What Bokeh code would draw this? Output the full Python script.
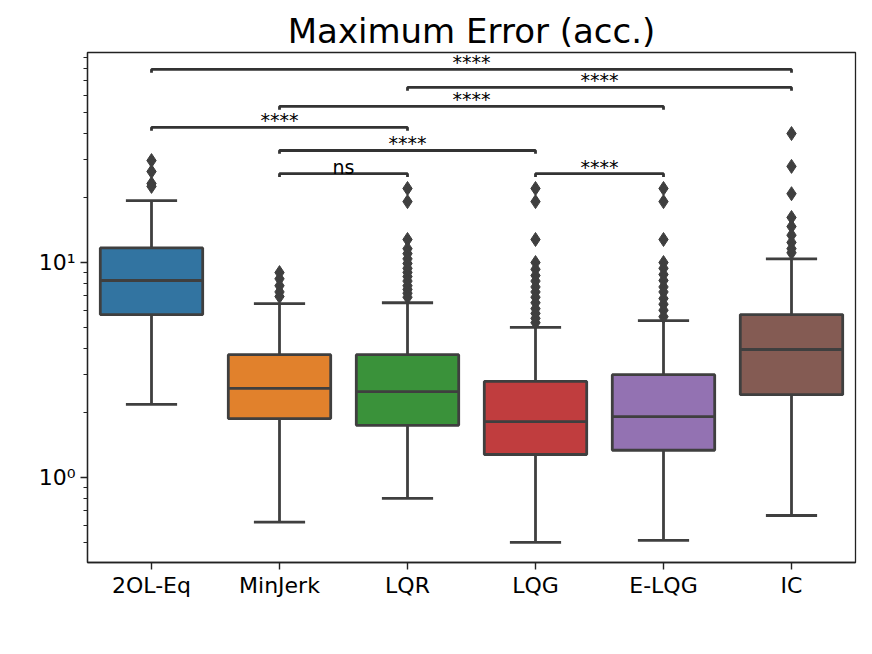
import numpy as np
from bokeh.plotting import figure
from bokeh.models import Range1d, FixedTicker, ColumnDataSource
from bokeh.embed import file_html
from bokeh.resources import INLINE

# ---- data ----
categories = ["2OL-Eq", "MinJerk", "LQR", "LQG", "E-LQG", "IC"]
colors = ["#3274a1", "#e1812c", "#3a923a", "#c03d3e", "#9372b2", "#845b53"]
whisker_low = [2.19, 0.62, 0.80, 0.50, 0.51, 0.666]
q1 = [5.73, 1.88, 1.75, 1.28, 1.34, 2.43]
median = [8.25, 2.60, 2.51, 1.82, 1.92, 3.94]
q3 = [11.7, 3.73, 3.73, 2.80, 3.01, 5.73]
whisker_high = [19.4, 6.44, 6.5, 4.99, 5.37, 10.4]
outliers = [
    [29.8, 26.5, 23.3, 22.6],
    [8.98, 8.4, 7.8, 7.3, 6.95],
    [22.1, 19.2, 12.8, 11.6, 11.0, 10.4, 9.9, 9.4, 9.0, 8.6, 8.2, 7.8, 7.5, 7.2, 6.9],
    [22.1, 19.2, 12.8, 10.0, 9.3, 8.7, 8.2, 7.7, 7.3, 6.9, 6.5, 6.1, 5.8, 5.5, 5.25],
    [22.1, 19.2, 12.8, 10.0, 9.4, 8.8, 8.25, 7.7, 7.3, 6.8, 6.4, 6.0, 5.6],
    [39.8, 28.0, 20.9, 16.2, 14.7, 13.4, 12.4, 11.6, 11.1],
]
# significance brackets: (left category, right category, level, label)
bracket_left = ["MinJerk", "LQG", "MinJerk", "2OL-Eq", "MinJerk", "LQR", "2OL-Eq"]
bracket_right = ["LQR", "E-LQG", "LQG", "LQR", "E-LQG", "IC", "IC"]
bracket_level = [25.9, 25.9, 33.2, 42.5, 53.2, 65.2, 79.1]
bracket_label = ["ns", "****", "****", "****", "****", "****", "****"]
y_ticks = [1, 10]
y_tick_labels = ["10\u2070", "10\u00b9"]

FONT = "DejaVu Sans"
EDGE = "#3f3f3f"

idx = np.arange(len(categories))
pos = {c: i for i, c in enumerate(categories)}

p = figure(width=864, height=640, output_backend="svg", toolbar_location=None,
           y_axis_type="log",
           x_range=Range1d(-0.5, len(categories) - 0.5),
           y_range=Range1d(0.4027, 94.8),
           min_border_left=87, min_border_right=9, min_border_top=52, min_border_bottom=78)

p.title.text = "Maximum Error (acc.)"
p.title.text_font = FONT
p.title.text_font_size = "34px"
p.title.text_font_style = "normal"
p.title.align = "center"
p.title.text_color = "black"
p.title.standoff = 4

p.grid.visible = False
p.background_fill_color = "white"
p.border_fill_color = "white"
p.outline_line_color = "#222222"
p.outline_line_width = 1.3
p.outline_line_alpha = 1.0

# x axis
p.xaxis.ticker = FixedTicker(ticks=list(idx))
p.xaxis.major_label_overrides = {int(i): c for i, c in enumerate(categories)}
p.xaxis.minor_tick_line_color = None
# y axis
minor = [m * 10.0 ** e for e in (-1, 0, 1) for m in range(2, 10)]
p.yaxis.ticker = FixedTicker(ticks=y_ticks, minor_ticks=minor)
p.yaxis.major_label_overrides = {t: l for t, l in zip(y_ticks, y_tick_labels)}

for ax in (p.xaxis, p.yaxis):
    ax.axis_line_color = "#222222"
    ax.axis_line_width = 1.3
    ax.major_tick_line_color = "#222222"
    ax.major_tick_line_width = 1.4
    ax.major_tick_out = 7
    ax.major_tick_in = 0
    ax.major_label_text_font = FONT
    ax.major_label_text_font_size = "22px"
    ax.major_label_text_color = "black"
p.yaxis.minor_tick_line_color = "#222222"
p.yaxis.minor_tick_line_width = 1.1
p.yaxis.minor_tick_out = 4
p.yaxis.minor_tick_in = 0
p.yaxis.major_label_standoff = 5
p.xaxis.major_label_standoff = 3

LW = 2.8
# whiskers
p.segment(x0=idx, x1=idx, y0=q3, y1=whisker_high, line_color=EDGE, line_width=LW)
p.segment(x0=idx, x1=idx, y0=q1, y1=whisker_low, line_color=EDGE, line_width=LW)
# caps
p.segment(x0=idx - 0.2, x1=idx + 0.2, y0=whisker_high, y1=whisker_high, line_color=EDGE, line_width=LW)
p.segment(x0=idx - 0.2, x1=idx + 0.2, y0=whisker_low, y1=whisker_low, line_color=EDGE, line_width=LW)
# boxes
p.vbar(x=idx, width=0.8, bottom=q1, top=q3, fill_color=colors, line_color=EDGE, line_width=LW)
# medians
p.segment(x0=idx - 0.4, x1=idx + 0.4, y0=median, y1=median, line_color=EDGE, line_width=LW)
# outliers
ox = [i for i, vals in enumerate(outliers) for _ in vals]
oy = [v for vals in outliers for v in vals]
p.scatter(x=ox, y=oy, marker="diamond", size=14, fill_color=EDGE, line_color=EDGE, line_width=1)

# significance brackets
xs, ys, tx, ty = [], [], [], []
for a, b, lv in zip(bracket_left, bracket_right, bracket_level):
    i, j = pos[a], pos[b]
    xs.append([i, i, j, j])
    ys.append([lv * 0.965, lv, lv, lv * 0.965])
    tx.append((i + j) / 2)
    ty.append(lv)
p.multi_line(xs=xs, ys=ys, line_color="#333333", line_width=2.8)
src = ColumnDataSource(dict(x=tx, y=ty, t=bracket_label))
p.text(x="x", y="y", text="t", source=src, text_align="center", text_baseline="alphabetic",
       text_font_size="19px", text_color="black", y_offset=-7,
       text_font={"value": FONT})

open("out.html", "w").write(file_html(p, INLINE))
